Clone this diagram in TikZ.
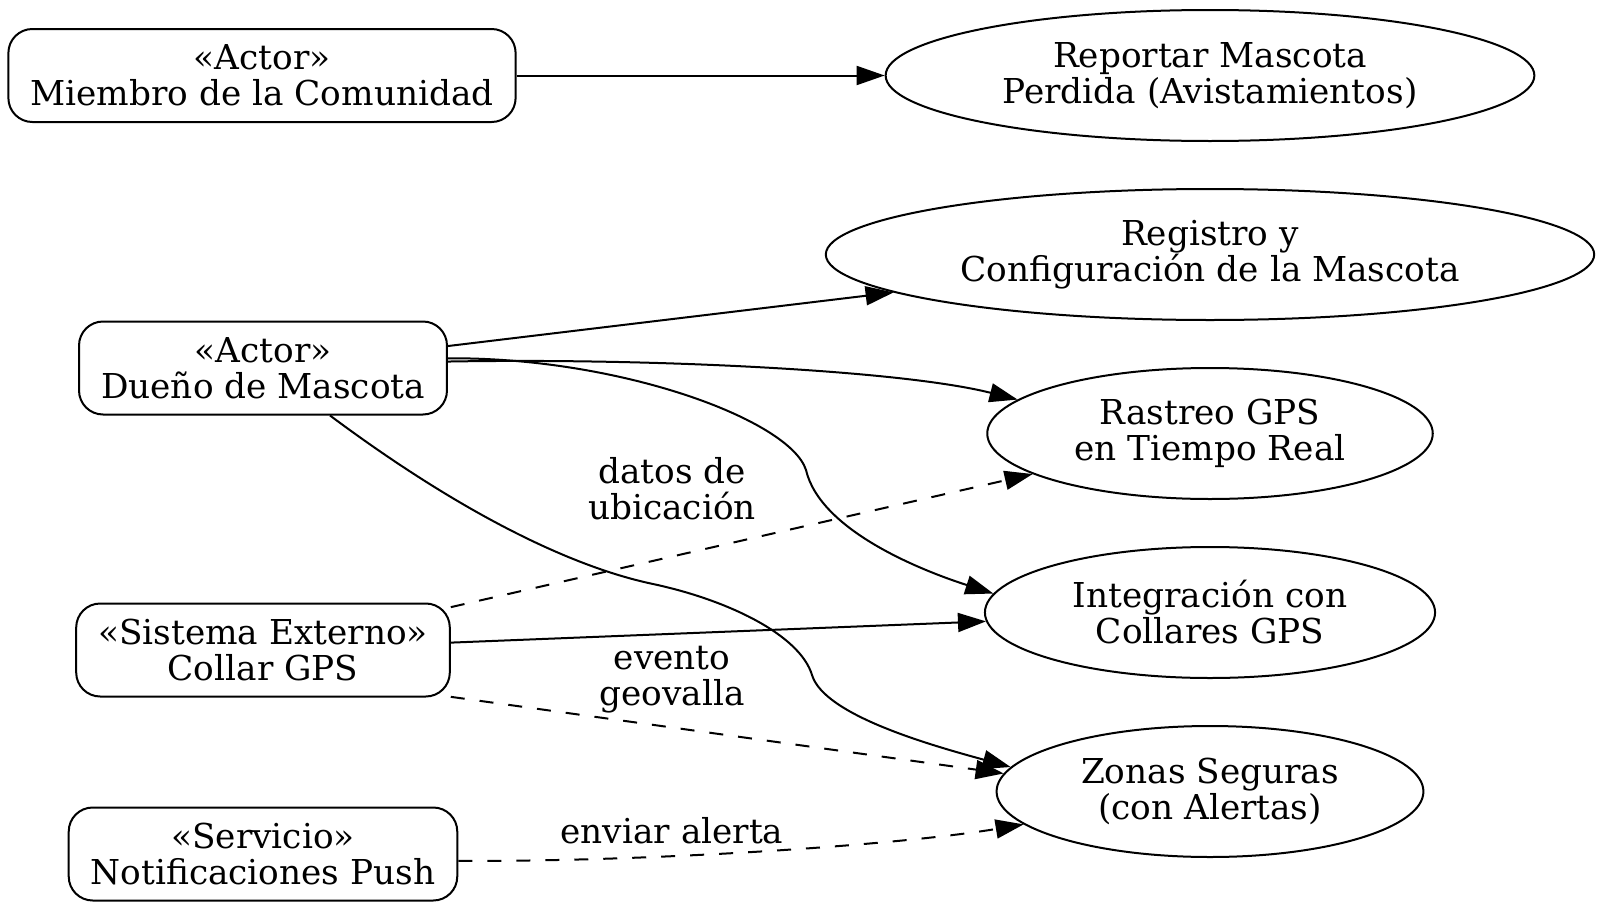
\documentclass[tikz,border=0pt]{standalone}
\usepackage{fontspec}
\setmainfont{DejaVu Serif}
\usetikzlibrary{shapes.geometric,arrows.meta,positioning}

\begin{document}
\begin{tikzpicture}[
    x=1pt, y=-1pt,
    node distance=46pt,
    >={Triangle[length=28pt, width=19pt]},
    every node/.style={font=\fontsize{34.3}{36}\selectfont},
    actor/.style={rectangle, rounded corners=24pt, draw, line width=2pt,
                  minimum height=93pt, inner xsep=22pt, align=center},
    usecase/.style={ellipse, draw, line width=2pt, minimum height=131pt,
                    inner xsep=22pt, inner ysep=4pt, align=center},
    lbl/.style={align=center},
    arrow/.style={->, line width=2pt},
    dasharrow/.style={arrow, dash pattern=on 14pt off 15pt}
]
\useasboundingbox (0,0) rectangle (1600,910);

% Actors
\node[actor] (miembro) at (262,75.5) {«Actor»\\Miembro de la Comunidad};
\node[actor] (dueno) at (263,368) {«Actor»\\Dueño de Mascota};
\node[actor] (collar) at (263,650) {«Sistema Externo»\\Collar GPS};
\node[actor] (push) at (263,854) {«Servicio»\\Notificaciones Push};

% Use cases
\node[usecase] (reportar) at (1210,75.5) {Reportar Mascota\\Perdida (Avistamientos)};
\node[usecase, below=of reportar] (registro) {Registro y\\Configuración de la Mascota};
\node[usecase, below=of registro] (rastreo) {Rastreo GPS\\en Tiempo Real};
\node[usecase, below=of rastreo] (integracion) {Integración con\\Collares GPS};
\node[usecase, below=of integracion] (zonas) {Zonas Seguras\\(con Alertas)};

% Edges
\draw[arrow] (miembro) -- (reportar);
\draw[arrow] (dueno) -- (registro);
\draw[arrow] (dueno.2.5) .. controls (650,358) and (900,370) .. (rastreo.170);
\draw[arrow] (dueno.3.5) .. controls (620,357) and (790,420) .. (806,470)
    .. controls (820,530) and (920,570) .. (integracion.175.5);
\draw[arrow] (dueno.south) ++(67,0) .. controls (450,505) and (563,565) .. (653,584)
    .. controls (728,600) and (800,635) .. (812,675)
    .. controls (824,715) and (930,745) .. (zonas.173.8);
\draw[dasharrow] (collar) -- (rastreo);
\draw[arrow] (collar) -- (integracion);
\draw[dasharrow] (collar.-14) -- (zonas.175.5);
\draw[dasharrow] (push.-2) .. controls (650,862) and (900,845) .. (zonas.190);

% Labels
\node[lbl] (datos) at (672,489) {datos de\\ubicación};
\node[lbl] (evento) at (672,680) {evento\\geovalla};
\node[lbl] (enviar) at (672,831) {enviar alerta};
\end{tikzpicture}
\end{document}
